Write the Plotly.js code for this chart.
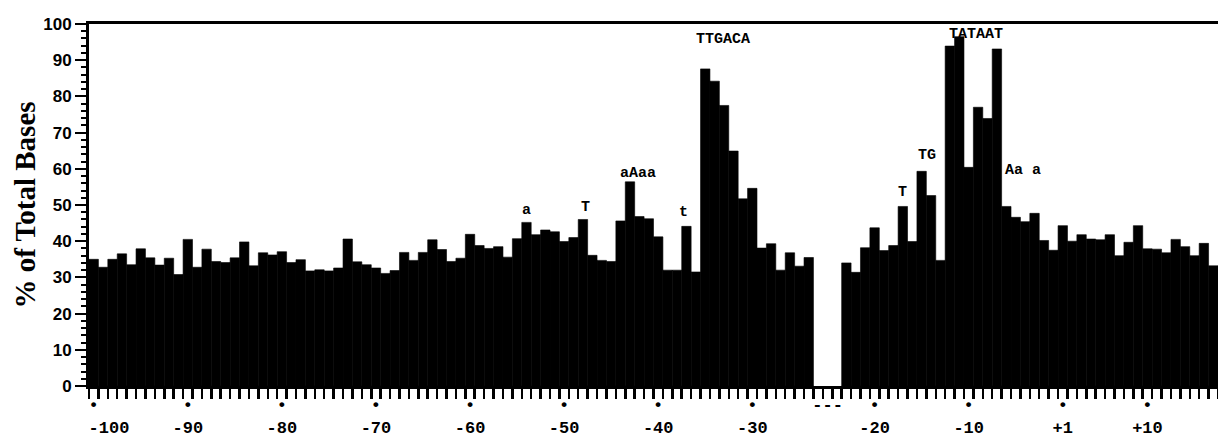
<!DOCTYPE html>
<html>
<head>
<meta charset="utf-8">
<script src="https://cdn.plot.ly/plotly-3.0.1.min.js"></script>
<style>
html,body{margin:0;padding:0;background:#fff;}
#chart{width:1218px;height:437px;}
</style>
</head>
<body>
<div id="chart"></div>
<script>
// ---- categories (positions relative to transcription start) ----
const upstreamPositions = [];
for (let p = -100; p <= -24; p++) upstreamPositions.push(String(p));
const spacerPositions = ['gap1', 'gap2', 'gap3'];
const corePositions = [];
for (let p = -23; p <= -1; p++) corePositions.push(String(p));
const downstreamPositions = [];
for (let p = 1; p <= 17; p++) downstreamPositions.push('+' + p);

// ---- values (% of total bases) ----
const upstreamValues = [
  35.0, 32.8, 35.0, 36.5, 33.5, 37.9, 35.4, 33.4, 35.3, 30.8,   // -100 .. -91
  40.5, 32.8, 37.8, 34.4, 34.1, 35.4, 39.8, 33.2, 36.8, 36.2,   // -90 .. -81
  37.1, 34.1, 34.9, 31.8, 32.1, 31.8, 32.6, 40.6, 34.3, 33.5,   // -80 .. -71
  32.6, 31.1, 31.9, 36.9, 34.7, 36.9, 40.4, 37.7, 34.4, 35.3,   // -70 .. -61
  41.9, 38.8, 38.0, 38.5, 35.6, 40.7, 45.2, 41.8, 43.1, 42.6,   // -60 .. -51
  39.9, 41.0, 46.0, 36.1, 34.7, 34.4, 45.6, 56.4, 46.8, 46.2,   // -50 .. -41
  41.2, 32.0, 32.0, 44.1, 31.5, 87.6, 84.2, 77.5, 64.9, 51.7,   // -40 .. -31
  54.6, 38.1, 39.3, 32.0, 36.8, 33.1, 35.5                      // -30 .. -24
];
const spacerValues = [null, null, null];
const coreValues = [
  34.0, 31.4, 38.2, 43.7, 37.4, 38.8, 49.6, 39.9, 59.3, 52.6,   // -23 .. -14
  34.7, 93.9, 96.5, 60.4, 77.0, 73.9, 93.1, 49.6, 46.6, 45.4,   // -13 .. -4
  47.7, 40.2, 37.5                                              // -3 .. -1
];
const downstreamValues = [
  44.3, 40.0, 41.8, 40.6, 40.4, 41.8, 36.0, 39.7, 44.3, 37.9,   // +1 .. +10
  37.8, 36.8, 40.5, 38.5, 36.0, 39.4, 33.2                      // +11 .. +17
];

// ---- tick labels ----
const tickPositions = ['-100','-90','-80','-70','-60','-50','-40','-30','gap2','-20','-10','+1','+10'];
const tickLabels    = ['-100','-90','-80','-70','-60','-50','-40','-30','---','-20','-10','+1','+10'];

// ---- consensus labels above bars ----
const motifTexts   = ['a',   'T',   'aAaa', 't',   'TTGACA', 'T',   'TG',  'TATAAT', 'Aa a'];
const motifAnchors = ['-54', '-48', '-43',  '-37', '-35',    '-17', '-15', '-12',    '-5'];
const motifOffsets = [0,     0.3,   0.8,    -0.3,  1.9,      0,     0.6,   2.8,      0.75];
const motifHeights = [48.5,  49.3,  58.8,   48.0,  95.8,     53.5,  63.8,  97.2,     59.5];

// ---- assemble ----
const positions = upstreamPositions.concat(spacerPositions, corePositions, downstreamPositions);
const values = upstreamValues.concat(spacerValues, coreValues, downstreamValues);
const slots = positions.map((p, i) => i);

const nb = '\u00a0';
const tickvals = tickPositions.map(p => positions.indexOf(p));
const ticktext = tickLabels.map(l => {
  if (l === '---') return '---';
  if (l === '-100') return '•<br>' + nb + nb + nb + l;
  return '•<br>' + l;
});

const annotations = motifTexts.map((t, i) => ({
  x: positions.indexOf(motifAnchors[i]) + motifOffsets[i],
  y: motifHeights[i],
  xref: 'x', yref: 'y',
  text: t,
  showarrow: false,
  font: {family: 'Liberation Mono', size: 15, color: '#000', weight: 'bold'}
}));

const trace = {
  type: 'bar',
  x: slots,
  y: values,
  marker: {color: '#000', line: {color: '#000', width: 0.6}},
  hoverinfo: 'skip'
};

const layout = {
  width: 1218, height: 437,
  margin: {l: 89, r: 0, t: 24, b: 51, pad: 0},
  paper_bgcolor: '#fff', plot_bgcolor: '#fff',
  bargap: 0,
  showlegend: false,
  xaxis: {
    type: 'linear',
    range: [-0.5, positions.length - 0.5],
    showgrid: false, zeroline: false,
    showline: true, mirror: true, linecolor: '#000', linewidth: 3,
    tickmode: 'array', tickvals: tickvals, ticktext: ticktext,
    ticks: 'outside', ticklen: 1, tickcolor: 'rgba(0,0,0,0)',
    tickfont: {family: 'Liberation Mono', size: 17, color: '#000', weight: 'bold'},
    minor: {tickmode: 'linear', tick0: -0.5, dtick: 1, ticks: 'outside', ticklen: 10, tickwidth: 2.5, tickcolor: '#000', showgrid: false},
    automargin: false, fixedrange: true
  },
  yaxis: {
    range: [0, 100],
    showgrid: false, zeroline: false,
    showline: true, linecolor: '#000', linewidth: 3,
    tickmode: 'linear', tick0: 0, dtick: 10,
    ticks: 'outside', ticklen: 11, tickwidth: 2, tickcolor: '#000',
    minor: {tickmode: 'linear', tick0: 0, dtick: 2, ticks: 'outside', ticklen: 5, tickwidth: 2, tickcolor: '#000', showgrid: false},
    tickfont: {family: 'Liberation Sans', size: 17, color: '#000', weight: 'bold'},
    title: {text: '% of Total Bases', font: {family: 'Liberation Serif', size: 29, color: '#000', weight: 'bold'}, standoff: 0},
    automargin: false, fixedrange: true
  },
  annotations: annotations
};

Plotly.newPlot('chart', [trace], layout, {staticPlot: true, displayModeBar: false});
</script>
</body>
</html>
